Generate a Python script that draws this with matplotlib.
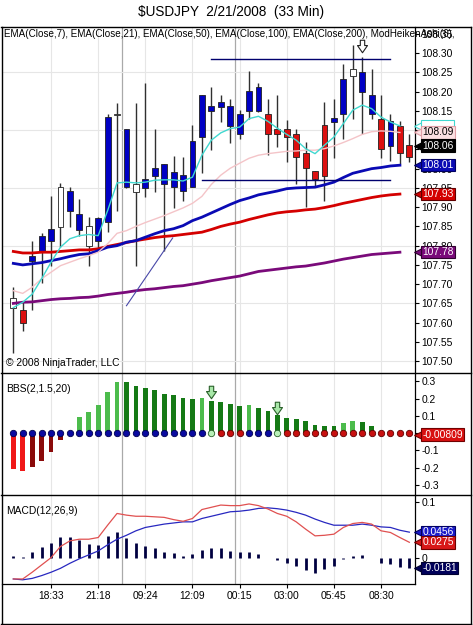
"""$USDJPY 33-min chart: Heiken-Ashi style candles with EMAs, BBS squeeze and MACD panes."""

import matplotlib
matplotlib.use("Agg")
import matplotlib.pyplot as plt
import numpy as np
from matplotlib.lines import Line2D
from matplotlib.path import Path
from matplotlib.ticker import FuncFormatter
from matplotlib.transforms import blended_transform_factory

plt.rcParams["font.family"] = ["Liberation Sans", "DejaVu Sans"]

W, H = 473, 625

# ---- price bars ----
opens = [107.638, 107.633, 107.760, 107.783, 107.811, 107.848, 107.890, 107.841, 107.799, 107.811,
         107.861, 108.139, 107.952, 107.939, 107.951, 107.980, 107.961, 107.952, 107.942, 107.952,
         108.082, 108.150, 108.160, 108.111, 108.091, 108.150, 108.149, 108.141, 108.102, 108.102,
         108.091, 108.041, 107.993, 108.113, 108.121, 108.141, 108.240, 108.199, 108.141, 108.130,
         108.059, 108.110, 108.061]
highs = [107.693, 107.657, 107.813, 107.832, 107.930, 107.962, 107.952, 107.920, 107.874, 107.874,
         108.143, 108.171, 108.102, 108.171, 108.223, 108.102, 108.011, 108.032, 108.030, 108.113,
         108.191, 108.211, 108.191, 108.180, 108.152, 108.253, 108.223, 108.180, 108.191, 108.126,
         108.102, 108.069, 107.993, 108.172, 108.180, 108.272, 108.321, 108.291, 108.260, 108.191,
         108.141, 108.123, 108.091]
lows = [107.522, 107.579, 107.633, 107.702, 107.748, 107.796, 107.848, 107.826, 107.748, 107.787,
        107.835, 107.891, 107.949, 107.748, 107.926, 107.939, 107.787, 107.897, 107.917, 107.952,
        107.989, 108.049, 108.121, 108.067, 108.078, 108.130, 108.147, 108.036, 108.056, 108.017,
        107.961, 107.900, 107.952, 107.917, 108.029, 108.076, 108.130, 108.089, 108.128, 108.029,
        108.020, 108.013, 108.017]
closes = [107.663, 107.600, 107.772, 107.824, 107.842, 107.952, 107.943, 107.881, 107.852, 107.872,
          108.133, 108.143, 108.102, 107.961, 107.972, 108.002, 108.011, 107.992, 107.983, 108.072,
          108.191, 108.162, 108.172, 108.162, 108.141, 108.201, 108.211, 108.091, 108.091, 108.082,
          108.030, 108.002, 107.974, 107.981, 108.132, 108.233, 108.260, 108.252, 108.191, 108.050,
          108.123, 108.041, 108.030]
hollow_bars = [0, 5, 8, 11, 13, 36]
last_price = 108.06

# ---- moving averages ----
ema7 = [107.639, 107.653, 107.674, 107.714, 107.757, 107.796, 107.818, 107.826, 107.829, 107.826,
        107.891, 107.963, 107.965, 107.963, 107.965, 107.970, 107.971, 107.971, 107.968, 107.978,
        108.035, 108.074, 108.093, 108.104, 108.108, 108.130, 108.136, 108.123, 108.105, 108.089,
        108.074, 108.052, 108.039, 108.061, 108.082, 108.117, 108.152, 108.165, 108.156, 108.134,
        108.121, 108.111]
ema21 = [107.683, 107.676, 107.692, 107.714, 107.731, 107.748, 107.757, 107.766, 107.774, 107.783,
         107.805, 107.832, 107.839, 107.850, 107.860, 107.869, 107.878, 107.888, 107.898, 107.910,
         107.928, 107.959, 107.983, 108.001, 108.014, 108.027, 108.035, 108.039, 108.042, 108.045,
         108.046, 108.048, 108.048, 108.052, 108.059, 108.068, 108.078, 108.089, 108.096, 108.098,
         108.097, 108.094]
ema50 = [107.754, 107.750, 107.753, 107.756, 107.761, 107.766, 107.772, 107.777, 107.779, 107.787,
         107.796, 107.800, 107.809, 107.813, 107.822, 107.831, 107.839, 107.844, 107.852, 107.865,
         107.874, 107.885, 107.896, 107.907, 107.917, 107.924, 107.932, 107.937, 107.942, 107.948,
         107.950, 107.951, 107.952, 107.958, 107.965, 107.977, 107.988, 107.994, 108.000, 108.003,
         108.007, 108.009]
ema100 = [107.785, 107.781, 107.781, 107.783, 107.783, 107.785, 107.787, 107.789, 107.789, 107.792,
          107.798, 107.803, 107.808, 107.813, 107.817, 107.821, 107.824, 107.826, 107.829, 107.832,
          107.835, 107.842, 107.850, 107.856, 107.861, 107.868, 107.874, 107.880, 107.885, 107.888,
          107.890, 107.893, 107.895, 107.899, 107.904, 107.910, 107.915, 107.920, 107.925, 107.929,
          107.932, 107.934]
ema200 = [107.650, 107.653, 107.654, 107.657, 107.660, 107.662, 107.663, 107.665, 107.666, 107.669,
          107.673, 107.676, 107.679, 107.683, 107.686, 107.688, 107.691, 107.694, 107.696, 107.700,
          107.704, 107.709, 107.713, 107.717, 107.721, 107.727, 107.733, 107.736, 107.739, 107.742,
          107.745, 107.747, 107.751, 107.755, 107.760, 107.765, 107.769, 107.773, 107.777, 107.779,
          107.781, 107.783]

# drawn lines: (bar_from, price_from, bar_to, price_to)
resistance = (21, 108.284, 40, 108.284)
support = (20, 107.971, 40, 107.971)
diagonal = (12.0, 107.644, 16.9, 107.820)
price_arrow = (37, 108.318)

# ---- BBS(2,1.5,20) ----
bbs_hist = [-0.210, -0.220, -0.196, -0.159, -0.110, -0.040, 0.000, 0.093, 0.122, 0.161,
            0.238, 0.297, 0.297, 0.275, 0.264, 0.248, 0.227, 0.221, 0.204, 0.198,
            0.205, 0.188, 0.180, 0.167, 0.155, 0.161, 0.149, 0.128, 0.105, 0.089,
            0.083, 0.072, 0.047, 0.039, 0.039, 0.058, 0.068, 0.064, 0.041, 0.000,
            0.000, 0.000, -0.00809]
bbs_state = list("bbbbbbbbbbbbbbbbbbbbb" + "g" + "rrr" + "bbb" + "g" + "rrrrrrrrrrrrrr")
bbs_arrows = [(21, 0.240), (28, 0.145)]

# ---- MACD(12,26,9) ----
macd = [-0.038, -0.038, -0.026, -0.013, 0.000, 0.020, 0.030, 0.033, 0.033, 0.036,
        0.058, 0.079, 0.076, 0.074, 0.074, 0.073, 0.072, 0.068, 0.065, 0.070,
        0.086, 0.090, 0.094, 0.093, 0.093, 0.096, 0.093, 0.087, 0.079, 0.074,
        0.064, 0.051, 0.039, 0.040, 0.042, 0.054, 0.061, 0.063, 0.060, 0.048,
        0.045, 0.036, 0.0275]
macd_avg = [-0.038, -0.0395, -0.037, -0.032, -0.026, -0.019, -0.010, -0.002, 0.005, 0.012,
            0.023, 0.033, 0.040, 0.048, 0.054, 0.057, 0.060, 0.062, 0.064, 0.064,
            0.070, 0.074, 0.078, 0.082, 0.083, 0.085, 0.088, 0.089, 0.0875, 0.085,
            0.081, 0.076, 0.069, 0.063, 0.058, 0.058, 0.058, 0.060, 0.058, 0.055,
            0.054, 0.049, 0.0456]
macd_diff = [0.003, 0.001, 0.011, 0.019, 0.026, 0.037, 0.037, 0.032, 0.024, 0.023,
             0.039, 0.045, 0.035, 0.026, 0.020, 0.017, 0.011, 0.008, 0.003, 0.007,
             0.014, 0.017, 0.018, 0.0125, 0.0095, 0.011, 0.007, 0.000, -0.005, -0.009,
             -0.0155, -0.022, -0.027, -0.020, -0.0155, -0.002, 0.003, 0.004, 0.000, -0.009,
             -0.011, -0.016, -0.0181]

# ---- time axis ----
time_ticks = [4, 9, 14, 19, 24, 29, 34, 39]
time_labels = ["18:33", "21:18", "09:24", "12:09", "00:15", "03:00", "05:45", "08:30"]
session_breaks = [11.5, 23.5]

BLUE_BAR = "#0000c4"
RED_BAR = "#dc1010"
GRID = "#e6e6e6"
FS = 7.4


def frac(left, top, right, bottom):
    """Pixel box (from top-left) -> figure fraction rect."""
    return [left / W, 1 - bottom / H, (right - left) / W, (bottom - top) / H]


def style_axis(ax):
    for side in ("left", "top", "bottom"):
        ax.spines[side].set_visible(False)
    ax.spines["right"].set_linewidth(0.9)
    ax.yaxis.tick_right()
    ax.tick_params(axis="y", length=3, width=0.8, labelsize=FS, pad=1.5)
    ax.tick_params(axis="x", length=0, labelbottom=False)
    ax.set_facecolor("white")
    for t in time_ticks:
        ax.axvline(t, color=GRID, lw=0.8, zorder=0)
    for t in session_breaks:
        ax.axvline(t, color="#a9a9a9", lw=0.9, zorder=0)


def tag(ax, y, text, fc, ec, tc, z=7):
    """Value label hanging off the right-hand axis."""
    tr = blended_transform_factory(ax.transAxes, ax.transData)
    ax.plot([1.009], [y], marker="<", ms=6.5, mfc=fc, mec=ec, mew=0.8,
            transform=tr, clip_on=False, zorder=z - 1)
    ax.text(1.018, y, text, transform=tr, ha="left", va="center", fontsize=FS,
            color=tc, clip_on=False, zorder=z,
            bbox=dict(boxstyle="square,pad=0.12", fc=fc, ec=ec, lw=0.8))


down_arrow = Path([(-0.35, 1.0), (0.35, 1.0), (0.35, 0.15), (0.8, 0.15), (0.0, -1.0),
                   (-0.8, 0.15), (-0.35, 0.15), (-0.35, 1.0)], closed=True)

fig = plt.figure(figsize=(W / 100, H / 100), dpi=100)
ax_p = fig.add_axes(frac(2, 27, 415, 372.7))
ax_b = fig.add_axes(frac(2, 372.7, 415, 494.7), sharex=ax_p)
ax_m = fig.add_axes(frac(2, 494.7, 415, 584), sharex=ax_p)
for ax in (ax_p, ax_b, ax_m):
    style_axis(ax)

x = np.arange(len(closes))
o, h, l, c = map(np.array, (opens, highs, lows, closes))

# ---- price pane ----
for v in np.arange(107.50, 108.31, 0.15):
    ax_p.axhline(v, color=GRID, lw=0.8, zorder=0)

ax_p.vlines(x, l, h, color="#303030", lw=1.0, zorder=2)
body_lo = np.minimum(o, c)
body_h = np.maximum(np.abs(c - o), 0.004)
colors = np.where(c >= o, BLUE_BAR, RED_BAR).astype(object)
colors[hollow_bars] = "white"
ax_p.bar(x, body_h, bottom=body_lo, width=0.62, color=list(colors),
         edgecolor="#202020", linewidth=0.6, zorder=3)

xe = np.arange(len(ema50))
ax_p.plot(xe, ema200, color="#7a0a7a", lw=2.0, zorder=4)
ax_p.plot(xe, ema100, color="#d40000", lw=2.0, zorder=4)
ax_p.plot(xe, ema50, color="#0a0ab4", lw=2.0, zorder=4)
ax_p.plot(xe, ema21, color="#f4c4c8", lw=1.0, zorder=4)
ax_p.plot(xe, ema7, color="#40d8d0", lw=1.0, zorder=4)

for x0, y0, x1, y1 in (resistance, support):
    ax_p.plot([x0, x1], [y0, y1], color="#00006e", lw=1.0, zorder=5)
ax_p.plot([diagonal[0], diagonal[2]], [diagonal[1], diagonal[3]],
          color="#4848a8", lw=0.8, zorder=5)
ax_p.plot([price_arrow[0]], [price_arrow[1]], marker=down_arrow, ms=9,
          mfc="white", mec="#202020", mew=0.8, zorder=6)

ax_p.set_xlim(-1.2, 42.6)
ax_p.set_ylim(107.470, 108.368)
ax_p.set_yticks(np.arange(107.50, 108.351, 0.05))
ax_p.yaxis.set_major_formatter(FuncFormatter(lambda v, _: f"{v:.2f}"))

ax_p.text(0.005, 0.994,
          "EMA(Close,7), EMA(Close,21), EMA(Close,50), EMA(Close,100), EMA(Close,200), ModHeikenAshi(6),",
          transform=ax_p.transAxes, ha="left", va="top", fontsize=7.15, clip_on=False, zorder=8)
ax_p.text(0.01, 0.028, "\u00a9 2008 NinjaTrader, LLC", transform=ax_p.transAxes,
          ha="left", va="center", fontsize=FS)

# EMA7 tag sits mostly hidden behind the EMA21 tag, as on the original
tag(ax_p, ema7[-1], f"{ema7[-1]:.2f}", "#ffffff", "#40d8d0", "white", z=7)
tag(ax_p, ema21[-1], f"{ema21[-1]:.2f}", "#fbe0e2", "#e0a0a8", "black", z=9)
tag(ax_p, last_price, f"{last_price:.2f}", "black", "black", "white", z=11)
tag(ax_p, ema50[-1], f"{ema50[-1]:.2f}", "#0a0ab4", "#000060", "white")
tag(ax_p, ema100[-1], f"{ema100[-1]:.2f}", "#d40000", "#600000", "white")
tag(ax_p, ema200[-1], f"{ema200[-1]:.2f}", "#7a0a7a", "#300030", "white")

# ---- BBS pane ----
hist = np.array(bbs_hist)
prev = np.concatenate([[0.0], hist[:-1]])
bar_cols = []
for v, p in zip(hist, prev):
    if v >= 0:
        bar_cols.append("#4cbc4c" if v > p else "#157a15")
    else:
        bar_cols.append("#f01818" if v <= p else "#8a0a0a")
ax_b.bar(x, hist, width=0.5, color=bar_cols, zorder=2)

dot_face = {"b": "#0a0aa0", "r": "#c81010", "g": "#b8f0b8"}
dot_edge = {"b": "#000050", "r": "#600000", "g": "#2a602a"}
for s in "brg":
    idx = [i for i, st in enumerate(bbs_state) if st == s]
    ax_b.plot(idx, np.zeros(len(idx)), ls="none", marker="o", ms=4.6,
              mfc=dot_face[s], mec=dot_edge[s], mew=0.6, zorder=3)
for bx, by in bbs_arrows:
    ax_b.plot([bx], [by], marker=down_arrow, ms=9, mfc="#a8e8a8",
              mec="#2a602a", mew=0.8, zorder=4)

ax_b.set_ylim(-0.357, 0.351)
ax_b.set_yticks([-0.3, -0.2, -0.1, 0.0, 0.1, 0.2, 0.3])
ax_b.yaxis.set_major_formatter(FuncFormatter(lambda v, _: f"{v:g}" if abs(v) > 1e-9 else "0"))
ax_b.text(0.01, 0.866, "BBS(2,1.5,20)", transform=ax_b.transAxes, ha="left",
          va="center", fontsize=FS)
tag(ax_b, bbs_hist[-1], f"{bbs_hist[-1]:.5f}", "#d81010", "#700000", "white")

# ---- MACD pane ----
ax_m.vlines(x, 0, macd_diff, color="#000040", lw=2.0, zorder=2)
ax_m.plot(x, macd_avg, color="#2828c0", lw=0.9, zorder=3)
ax_m.plot(x, macd, color="#e05050", lw=0.9, zorder=3)
ax_m.set_ylim(-0.047, 0.1125)
ax_m.set_yticks([0.0, 0.1])
ax_m.yaxis.set_major_formatter(FuncFormatter(lambda v, _: f"{v:g}" if abs(v) > 1e-9 else "0"))
ax_m.text(0.01, 0.817, "MACD(12,26,9)", transform=ax_m.transAxes, ha="left",
          va="center", fontsize=FS)
tag(ax_m, macd_avg[-1], f"{macd_avg[-1]:.4f}", "#1a1ac8", "#000060", "white")
tag(ax_m, macd[-1], f"{macd[-1]:.4f}", "#d81818", "#700000", "white")
tag(ax_m, macd_diff[-1], f"{macd_diff[-1]:.4f}", "#00005a", "#000030", "white")

ax_m.spines["bottom"].set_visible(True)
ax_m.spines["bottom"].set_linewidth(0.9)
ax_m.set_xticks(time_ticks)
ax_m.set_xticklabels(time_labels)
ax_m.tick_params(axis="x", length=3, width=0.8, labelbottom=True, labelsize=FS, pad=2)


# ---- outer frame and pane separators ----
def hline(y, x0=1, x1=471):
    fig.add_artist(Line2D([x0 / W, x1 / W], [1 - y / H, 1 - y / H], color="black", lw=1.0))


def vline(xp, y0=27, y1=624):
    fig.add_artist(Line2D([xp / W, xp / W], [1 - y0 / H, 1 - y1 / H], color="black", lw=1.0))


hline(27)
hline(372.7)
hline(494.7)
hline(624)
vline(1.5)
vline(471)

fig.text(231 / W, 1 - 12 / H, "$USDJPY  2/21/2008  (33 Min)", ha="center", va="center",
         fontsize=9.8)

fig.savefig("out.png", dpi=100)
